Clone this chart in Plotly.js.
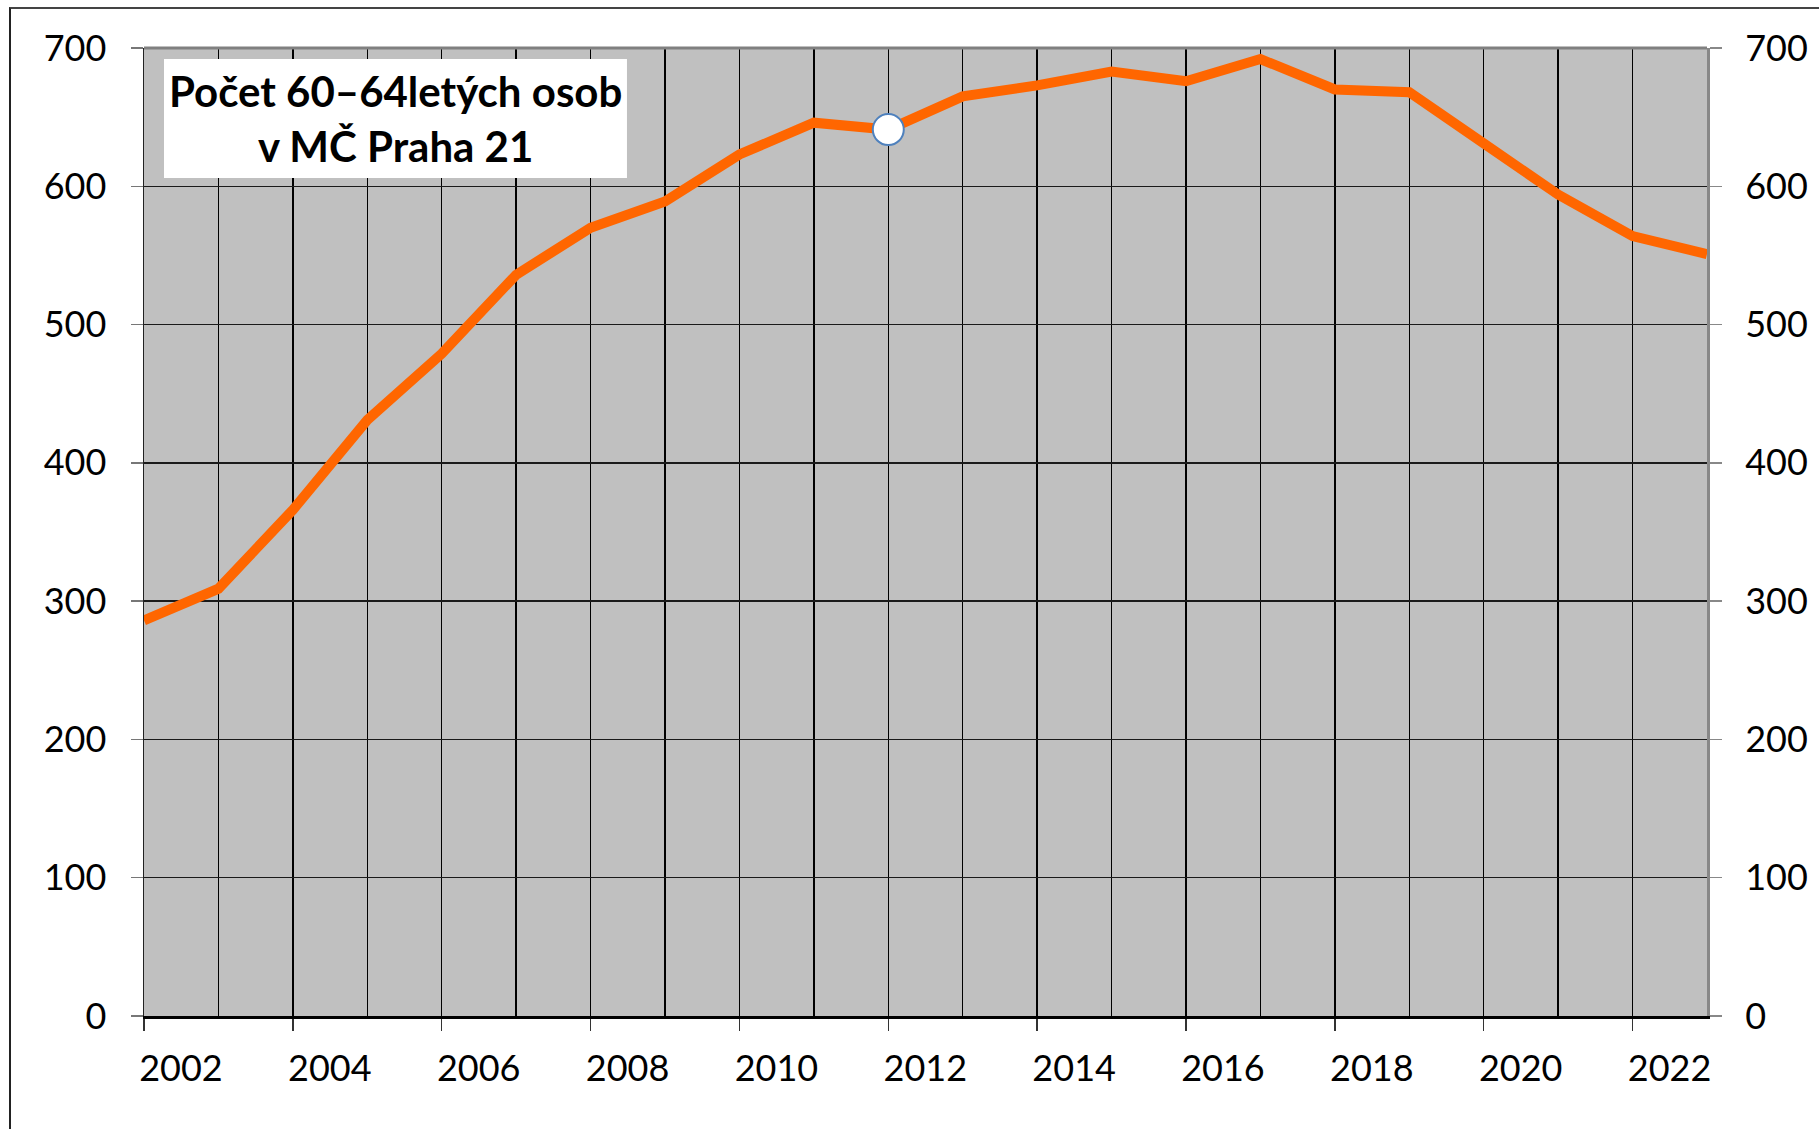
<!DOCTYPE html>
<html>
<head>
<meta charset="utf-8">
<script src="https://cdn.plot.ly/plotly-3.0.1.min.js"></script>
<style>
  html, body { margin: 0; padding: 0; background: #fff; overflow: hidden; }
  #chart { width: 1819px; height: 1129px; position: relative; }
  #frame { position: absolute; left: 9px; top: 7px; width: 1830px; height: 1140px;
           border-left: 2px solid #222; border-top: 2px solid #444; pointer-events: none; }
</style>
</head>
<body>
<div id="chart"></div>
<div id="frame"></div>
<script>
// Data
const years = [2002, 2003, 2004, 2005, 2006, 2007, 2008, 2009, 2010, 2011, 2012,
               2013, 2014, 2015, 2016, 2017, 2018, 2019, 2020, 2021, 2022, 2023];
const counts = [286, 309, 366, 431, 479, 536, 570, 589, 623, 646, 641,
                665, 673, 683, 676, 692, 670, 668, 631, 594, 564, 551];
const highlightYear = 2012;
const titleLines = ["Počet 60–64letých osob", "v MČ Praha 21"];
const yTicks = [0, 100, 200, 300, 400, 500, 600, 700];

const hiIdx = years.indexOf(highlightYear);

const font = { family: "Lato, 'Open Sans', sans-serif", size: 36, color: "#000" };

const traces = [
  {
    x: years, y: counts, type: "scatter", mode: "lines",
    line: { color: "#FF6600", width: 10 },
    hoverinfo: "x+y", showlegend: false
  },
  {
    x: [years[hiIdx]], y: [counts[hiIdx]], type: "scatter", mode: "markers",
    marker: { color: "#FFFFFF", size: 31, line: { color: "#4F81BD", width: 2 } },
    hoverinfo: "skip", showlegend: false
  },
  {
    x: years, y: counts, type: "scatter", mode: "lines", yaxis: "y2",
    line: { color: "rgba(0,0,0,0)", width: 0 },
    hoverinfo: "skip", showlegend: false
  }
];

const layout = {
  width: 1819, height: 1129,
  margin: { l: 144, r: 112, t: 48, b: 113, pad: 0 },
  paper_bgcolor: "#FFFFFF",
  plot_bgcolor: "#C0C0C0",
  font: font,
  showlegend: false,
  xaxis: {
    range: [years[0], years[years.length - 1]],
    tick0: years[0], dtick: 2,
    showgrid: true, gridcolor: "#000", gridwidth: 1.5,
    minor: { dtick: 1, tick0: years[0], showgrid: true, gridcolor: "#000", gridwidth: 1.5, ticks: "" },
    ticks: "outside", ticklen: 12, tickwidth: 1.5, tickcolor: "#333",
    showline: true, linecolor: "#000", linewidth: 3,
    zeroline: false,
    tickfont: font,
    ticklabelshift: 37,
    ticklabelstandoff: 7,
    fixedrange: true
  },
  yaxis: {
    range: [0, 700], tickvals: yTicks,
    showgrid: true, gridcolor: "#1a1a1a", gridwidth: 1.5,
    ticks: "outside", ticklen: 12, tickwidth: 1.5, tickcolor: "#777",
    showline: true, linecolor: "#222", linewidth: 1.5,
    zeroline: false,
    tickfont: font,
    ticklabelstandoff: 17,
    fixedrange: true
  },
  yaxis2: {
    range: [0, 700], tickvals: yTicks,
    overlaying: "y", side: "right",
    showgrid: false,
    ticks: "outside", ticklen: 12, tickwidth: 1.5, tickcolor: "#888",
    showline: true, linecolor: "#888", linewidth: 3,
    zeroline: false,
    tickfont: font,
    ticklabelstandoff: 16,
    fixedrange: true
  },
  shapes: [
    { type: "line", xref: "paper", yref: "paper", x0: 0, x1: 1, y0: 1, y1: 1,
      line: { color: "#808080", width: 3 }, layer: "above" },
    { type: "rect", xref: "paper", yref: "paper",
      x0: 0.0128, x1: 0.309, y0: 0.8657, y1: 0.9886,
      fillcolor: "#FFFFFF", line: { width: 0 }, layer: "above" }
  ],
  annotations: [
    { xref: "paper", yref: "paper", x: 0.1612, y: 0.927,
      xanchor: "center", yanchor: "middle", showarrow: false, align: "center",
      text: "<b>" + titleLines.join("<br>") + "</b>",
      font: { family: "Lato, 'Open Sans', sans-serif", size: 42, color: "#000" } }
  ]
};

Plotly.newPlot("chart", traces, layout, { displayModeBar: false, staticPlot: true });
</script>
</body>
</html>
